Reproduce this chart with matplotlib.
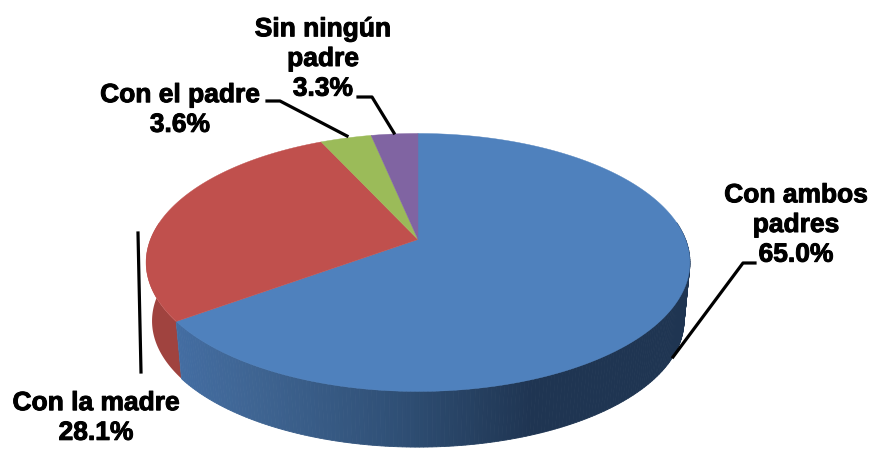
import numpy as np
import matplotlib
matplotlib.use('Agg')
import matplotlib.pyplot as plt
import matplotlib.patheffects as pe
from matplotlib.colors import LinearSegmentedColormap

plt.rcParams['font.family'] = ['Liberation Sans', 'DejaVu Sans']

# datos
categorias = ['Con ambos\npadres', 'Con la madre', 'Con el padre', 'Sin ningún\npadre']
valores = [65.0, 28.1, 3.6, 3.3]
colores = ['#4F81BD', '#C0504D', '#9BBB59', '#8064A2']
lado_rojo = '#A0433F'

W, H = 872, 449
fig = plt.figure(figsize=(W / 100, H / 100), dpi=100)
ax = fig.add_axes([0, 0, 1, 1])
ax.set_xlim(0, W)
ax.set_ylim(H, 0)   # pixeles, y hacia abajo
ax.axis('off')


def proy(t, esc=1.0, dy=0.0):
    # circulo -> elipse con perspectiva
    k = 0.178
    w = 1 + k * np.sin(t)
    x = 267.6 * np.cos(t) / w
    y = -124.9 * np.sin(t) / w
    return 418 + x * esc, 239.5 + y * esc + dy


def arco(a1, a2, n=200):
    return np.linspace(np.radians(a1), np.radians(a2), n)


# angulos de cada porcion, desde arriba en sentido horario
cum = np.cumsum([0] + valores) * 3.6
inicio = 90 - cum[:-1]
fin = 90 - cum[1:]

ESC_B, DY_B = 0.978, 59

# cara lateral: rojo (izquierda) y azul con degradado
t_rojo = arco(inicio[1], -188)
xa, ya = proy(t_rojo)
xb, yb = proy(t_rojo, ESC_B, DY_B)
ax.fill(np.r_[xa, xb[::-1]], np.r_[ya, yb[::-1]], color=lado_rojo, lw=0, zorder=1)

grad = LinearSegmentedColormap.from_list('g', [(0.0, '#436DA2'), (0.144, '#3F6593'), (0.436, '#2F4F75'),
                                               (0.695, '#1F3552'), (1.0, '#1F3552')])
t_azul = arco(inicio[1], 8, 200)
for i in range(len(t_azul) - 1):
    tt = t_azul[i:i + 2]
    xa, ya = proy(tt)
    xb, yb = proy(tt, ESC_B, DY_B)
    c = grad((xa.mean() - 176) / (690 - 176))
    ax.fill(np.r_[xa, xb[::-1]], np.r_[ya, yb[::-1]], color=c, lw=0.6, ec=c, zorder=2)

# cara superior
cx, cy = proy(np.array([np.pi / 2]), 0.0)
for a, b, c in zip(inicio, fin, colores):
    x, y = proy(arco(a, b))
    ax.fill(np.r_[cx, x], np.r_[cy, y], color=c, ec=c, lw=0.3, zorder=3)

# lineas guia
lw = 2.3
ax.plot([267, 280, 347], [101, 101, 136], color='k', lw=lw, zorder=4)
ax.plot([358, 372, 394], [97, 97, 133], color='k', lw=lw, zorder=4)
ax.plot([755, 743, 673], [263, 263, 357], color='k', lw=lw, zorder=4)
ax.plot([138, 141], [233, 372], color='k', lw=lw, zorder=4)

# etiquetas
kw = dict(ha='center', va='center', fontsize=19, fontweight='bold', color='k',
          linespacing=1.3, zorder=5, path_effects=[pe.withStroke(linewidth=0.7, foreground='k')])
ax.text(796, 225, categorias[0] + '\n%.1f%%' % valores[0], **kw)
ax.text(96, 418, categorias[1] + '\n%.1f%%' % valores[1], **kw)
ax.text(180, 110, categorias[2] + '\n%.1f%%' % valores[2], **kw)
ax.text(323, 59, categorias[3] + '\n%.1f%%' % valores[3], **kw)

fig.savefig('out.png', dpi=100)
